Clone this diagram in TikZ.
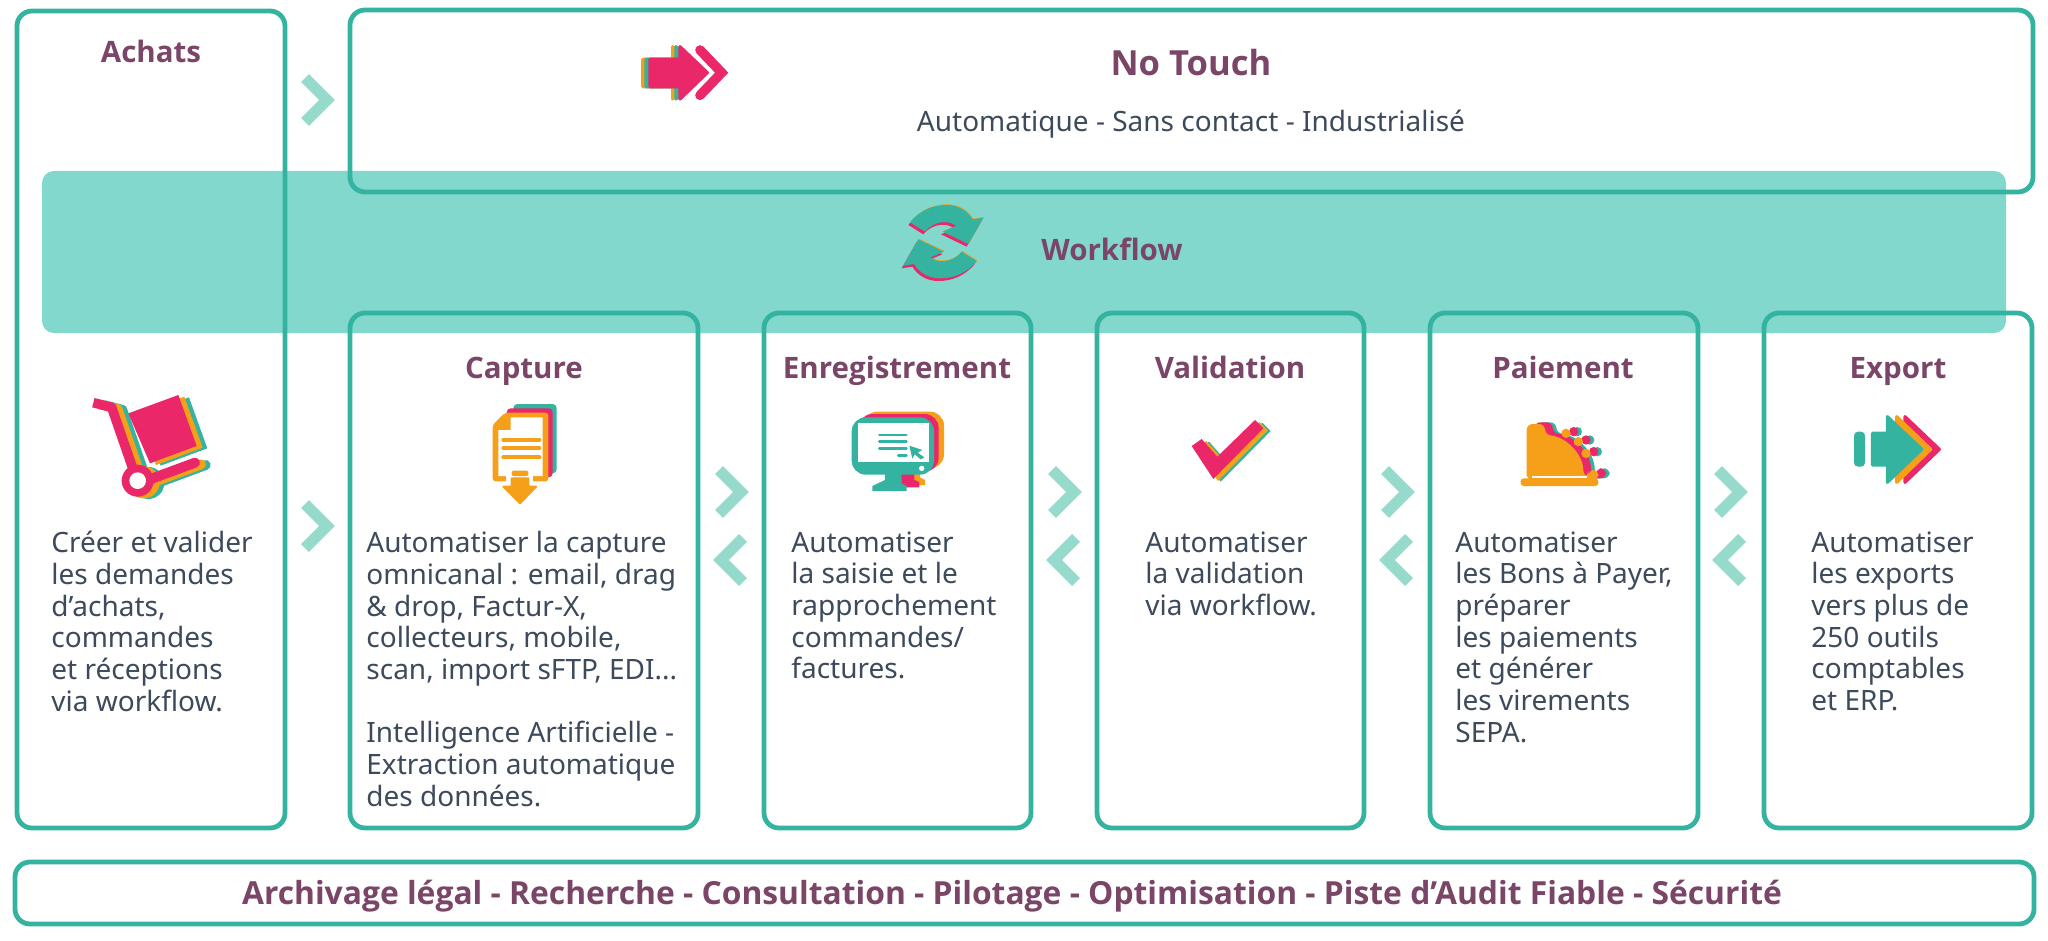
\documentclass[tikz,border=0pt]{standalone}
\usepackage{fontspec}
\setmainfont{Noto Sans}
\newfontfamily\titleb{Open Sans}
\definecolor{tealc}{HTML}{33B3A0}
\definecolor{bandc}{HTML}{82D8CD}
\definecolor{chevc}{HTML}{96DACB}
\definecolor{pinkc}{HTML}{EA2768}
\definecolor{orangec}{HTML}{F6A01A}
\definecolor{plumc}{HTML}{7B4567}
\definecolor{bodyc}{HTML}{3D4A5C}
\tikzset{
 panel/.style={draw=tealc,line width=2.4pt,rounded corners=7.5pt,inner sep=0pt,fill=none},
 titletxt/.style={text=plumc,font=\fontsize{14.75}{18}\selectfont\titleb\bfseries,inner sep=0pt,anchor=base},
 bodytxt/.style={text=bodyc,font=\fontsize{14}{15.85}\selectfont,align=left,anchor=north west,inner sep=0pt},
 chev/.style={draw=chevc,line width=5.6pt,miter limit=10,line cap=butt,line join=miter},
 rj/.style={line join=round,line width=1.6pt},
}
\newcommand{\chevR}[2]{\draw[chev] (#1-12,#2-22) -- (#1+10,#2) -- (#1-12,#2+22);}
\newcommand{\chevL}[2]{\draw[chev] (#1+12,#2-22) -- (#1-10,#2) -- (#1+12,#2+22);}
\begin{document}
\begin{tikzpicture}[x=0.5pt,y=-0.5pt]
\useasboundingbox (0,0) rectangle (2048,941);
% band
\node[fill=bandc,rounded corners=6pt,minimum width=982pt,minimum height=81pt,inner sep=0pt] (band) at (1024,252) {};
% panels
\node[panel,minimum width=134pt,minimum height=408.5pt] (achats) at (151,419.5) {};
\node[panel,minimum width=841.5pt,minimum height=91pt] (notouch) at (1191.5,101) {};
\node[panel,minimum width=174pt,minimum height=257.5pt] (capture) at (524,570.5) {};
\node[panel,minimum width=133.5pt,minimum height=257.5pt] (enreg) at (897.5,570.5) {};
\node[panel,minimum width=133.5pt,minimum height=257.5pt] (valid) at (1230.5,570.5) {};
\node[panel,minimum width=134pt,minimum height=257.5pt] (paie) at (1564,570.5) {};
\node[panel,minimum width=134pt,minimum height=257.5pt] (export) at (1898,570.5) {};
\node[panel,minimum width=1009.5pt,minimum height=31pt] (archive) at (1024.5,893) {};
% chevrons
\chevR{317}{100}
\chevR{317}{526}
\chevR{731}{492}\chevL{731}{560}
\chevR{1064}{492}\chevL{1064}{560}
\chevR{1397}{492}\chevL{1397}{560}
\chevR{1730}{492}\chevL{1730}{560}
% titles
\node[titletxt] (tachats) at (151,62.5) {Achats};
\node[titletxt,font=\fontsize{17.3}{20}\selectfont\titleb\bfseries] (tnotouch) at (1191,76) {No Touch};
\node[titletxt] (tworkflow) at (1112,260) {Workflow};
\node[titletxt] (tcapture) at (524,378) {Capture};
\node[titletxt] (tenreg) at (897,378) {Enregistrement};
\node[titletxt] (tvalid) at (1230,378) {Validation};
\node[titletxt] (tpaie) at (1563,378) {Paiement};
\node[titletxt] (texport) at (1898,378) {Export};
\node[titletxt,font=\fontsize{15.9}{20}\selectfont\titleb\bfseries] (tarchive) at (1012,904) {Archivage légal - Recherche - Consultation - Pilotage - Optimisation - Piste d’Audit Fiable - Sécurité};
% bodies
\node[text=bodyc,font=\fontsize{14}{17}\selectfont,inner sep=0pt] (subnt) at (1191,124) {Automatique - Sans contact - Industrialisé};
\node[bodytxt] (bachats) at (51,531) {Créer et valider\\les demandes\\d’achats,\\commandes\\et réceptions\\via workflow.};
\node[bodytxt] (bcapture) at (366,531) {Automatiser la capture\\omnicanal : email, drag\\\& drop, Factur-X,\\collecteurs, mobile,\\scan, import sFTP, EDI...\\[15.85pt]Intelligence Artificielle -\\Extraction automatique\\des données.};
\node[bodytxt] (benreg) at (791,531) {Automatiser\\la saisie et le\\rapprochement\\commandes/\\factures.};
\node[bodytxt] (bvalid) at (1145,531) {Automatiser\\la validation\\via workflow.};
\node[bodytxt] (bpaie) at (1455,531) {Automatiser\\les Bons à Payer,\\préparer\\les paiements\\et générer\\les virements\\SEPA.};
\node[bodytxt] (bexport) at (1811,531) {Automatiser\\les exports\\vers plus de\\250 outils\\comptables\\et ERP.};
% No Touch icon
\begin{scope}[shift={(600,30)},scale=1/3]
 \def\ntarrow{(150,88) -- (240,88) -- (240,50) -- (322,128) -- (240,207) -- (240,170) -- (150,170) -- cycle}
 \fill[orangec,draw=orangec,rj,shift={(-22,0)}] \ntarrow;
 \fill[tealc,draw=tealc,rj,shift={(-12,0)}] \ntarrow;
 \fill[pinkc,draw=pinkc,rj] \ntarrow;
 \draw[pinkc,line width=4.8pt,line join=miter,line cap=round] (300,60) -- (365,128) -- (300,196);
\end{scope}
% workflow icon
\begin{scope}[shift={(880,190)},scale=1/3]
 \def\wfp{(90,97) .. controls (120,60) and (160,45) .. (200,45) .. controls (235,45) and (262,62) .. (278,88) -- (310,83) -- (265,162) -- (188,125) -- (228,108) .. controls (212,92) and (165,88) .. (135,125) -- cycle}
 \def\wfq{(290,213) .. controls (260,250) and (220,265) .. (180,265) .. controls (145,265) and (118,248) .. (102,222) -- (70,227) -- (115,148) -- (192,185) -- (152,202) .. controls (168,218) and (215,222) .. (245,185) -- cycle}
 \fill[orangec,shift={(2,-2)}] \wfp;
 \fill[orangec,shift={(2,-2)}] \wfq;
 \fill[pinkc,shift={(-5,8)}] \wfp;
 \fill[pinkc,shift={(-5,8)}] \wfq;
 \fill[tealc] \wfp;
 \fill[tealc] \wfq;
\end{scope}
% cart icon
\begin{scope}[shift={(70,380)},scale=1/3]
 \newcommand{\cartlayer}[1]{%
  \fill[#1] (175,100) -- (325,45) -- (380,198) -- (240,250) -- cycle;
  \draw[#1,line width=4.8pt,line join=round] (70,68) -- (125,82) -- (190,270);
  \fill[#1] (203,302) circle (48);
  \draw[#1,line width=5pt,line cap=round] (240,298) -- (375,248);}
 \begin{scope}[shift={(32,7)}]\cartlayer{tealc}\end{scope}
 \begin{scope}[shift={(18,5)}]\cartlayer{orangec}\end{scope}
 \cartlayer{pinkc}
 \fill[white] (203,302) circle (25);
\end{scope}
% capture icon
\begin{scope}[shift={(470,390)},scale=1/3]
 \fill[tealc,rounded corners=2pt] (130,42) rectangle (260,250);
 \fill[pinkc,rounded corners=2pt] (110,55) rectangle (248,262);
 \fill[orangec,rounded corners=1.5pt] (68,105) -- (105,68) -- (235,68) -- (235,274) -- (68,274) -- cycle;
 \fill[white] (85,120) -- (122,120) -- (122,82) -- (218,82) -- (218,258) -- (85,258) -- cycle;
 \fill[white] (108,255) rectangle (190,276);
 \foreach \yy in {149,175,202}{\draw[orangec,line width=2pt,line cap=round] (100,\yy) -- (208,\yy);}
 \fill[orangec,rounded corners=1pt] (125,242) rectangle (175,258);
 \fill[orangec,draw=orangec,rj,line width=1pt] (125,265) -- (175,265) -- (175,290) -- (198,290) -- (150,340) -- (100,290) -- (125,290) -- cycle;
\end{scope}
% monitor icon
\begin{scope}[shift={(830,400)},scale=1/3]
 \def\stand{(165,215) -- (215,215) -- (215,250) -- (230,258) -- (230,273) -- (127,273) -- (127,258) -- (165,240) -- cycle}
 \fill[orangec,rounded corners=7pt] (100,35) rectangle (342,205);
 \fill[orangec,shift={(55,-18)}] \stand;
 \fill[pinkc,rounded corners=7pt] (85,42) rectangle (326,215);
 \fill[pinkc,shift={(38,-11)}] \stand;
 \fill[tealc] \stand;
 \fill[tealc,rounded corners=7pt] (65,52) rectangle (312,224);
 \fill[white] (83,70) rectangle (298,187);
 \foreach \yy in {105,125,146}{\draw[tealc,line width=1.4pt,line cap=round] (148,\yy) -- (229,\yy);}
 \draw[tealc,line width=1.4pt,line cap=round] (205,166) -- (229,166);
 \fill[tealc] (238,137) -- (277,150) -- (263,158) -- (283,172) -- (272,178) -- (254,163) -- (247,176) -- cycle;
 \fill[white] (275,205) circle (8);
\end{scope}
% check icon
\begin{scope}[shift={(1180,400)},scale=1/3]
 \def\chk{(35,138) -- (65,117) -- (112,170) -- (225,60) -- (250,85) -- (100,237) -- cycle}
 \fill[tealc,shift={(22,8)}] \chk;
 \fill[orangec,shift={(14,6)}] \chk;
 \fill[pinkc] \chk;
\end{scope}
% register icon
\begin{scope}[shift={(1500,410)},scale=1/3]
 \newcommand{\reglayer}[1]{%
  \fill[#1,rounded corners=3pt] (80,195) -- (80,42) -- (135,42) -- (135,75) .. controls (195,80) and (250,130) .. (250,200) -- (265,200) -- (265,180) -- (295,180) -- (295,210) -- (80,210) -- cycle;
  \fill[#1] (198,70) circle (14) (235,95) circle (14) (258,130) circle (14);}
 \begin{scope}[shift={(34,-5)}]\reglayer{tealc}\end{scope}
 \begin{scope}[shift={(23,-5)}]\reglayer{pinkc}\end{scope}
 \reglayer{orangec}
 \fill[white] (95,197) rectangle (262,203);
 \fill[orangec,rounded corners=1.5pt] (62,205) rectangle (295,228);
\end{scope}
% export icon
\begin{scope}[shift={(1840,410)},scale=1/3]
 \fill[pinkc,draw=pinkc,rj] (195,20) -- (298,118) -- (195,217) -- cycle;
 \fill[orangec,draw=orangec,rj] (170,20) -- (272,118) -- (170,217) -- cycle;
 \fill[tealc,draw=tealc,rj] (142,20) -- (245,118) -- (142,217) -- (142,165) -- (97,165) -- (97,70) -- (142,70) -- cycle;
 \fill[tealc,rounded corners=2pt] (42,65) rectangle (75,170);
\end{scope}
\end{tikzpicture}
\end{document}
